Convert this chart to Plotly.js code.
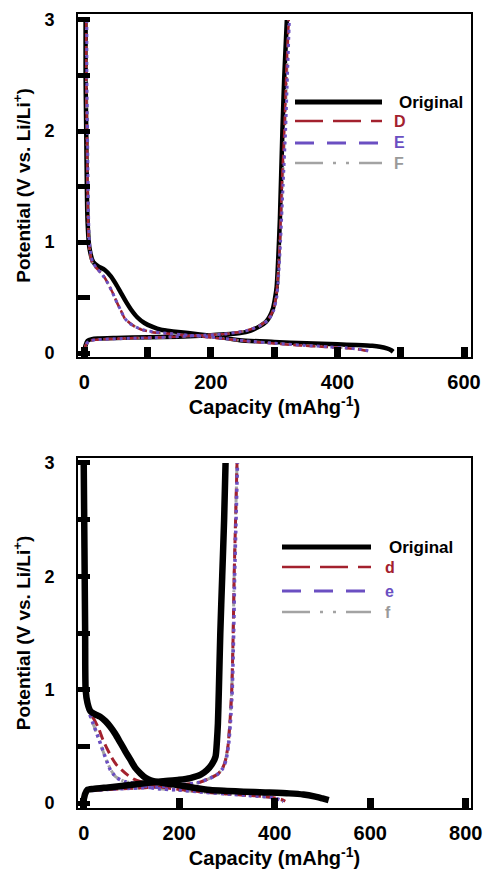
<!DOCTYPE html>
<html>
<head>
<meta charset="utf-8">
<script src="https://cdn.plot.ly/plotly-3.0.1.min.js"></script>
<style>html,body{margin:0;padding:0;background:#fff;}#chart{width:487px;height:872px;}</style>
</head>
<body>
<div id="chart"></div>
<script>
// ---------------- DATA (capacity mAh/g, potential V) ----------------
// Top panel
const topOrigDisX = [2, 2, 3, 4, 5, 8, 14, 22, 32, 42, 50, 58, 66, 74, 84, 95, 108, 121, 140, 164, 200, 246, 300, 351, 400, 430, 455, 467, 478, 485, 488];
const topOrigDisY = [3.0, 2.5, 2.0, 1.5, 1.2, 0.95, 0.82, 0.78, 0.75, 0.69, 0.62, 0.54, 0.46, 0.39, 0.32, 0.27, 0.235, 0.21, 0.195, 0.18, 0.155, 0.115, 0.1, 0.087, 0.078, 0.072, 0.065, 0.057, 0.042, 0.025, 0.012];
const topOrigChgX = [0, 2, 5, 12, 21, 50, 100, 148, 200, 246, 262, 277, 287, 293, 298, 301, 304, 306, 309, 313, 316, 320];
const topOrigChgY = [0.02, 0.07, 0.11, 0.125, 0.13, 0.135, 0.142, 0.147, 0.16, 0.18, 0.2, 0.24, 0.28, 0.33, 0.4, 0.48, 0.6, 0.8, 1.2, 2.0, 2.5, 3.0];

const topDDisX = [3, 3, 4, 5, 7, 12, 20, 30, 37, 45, 52, 58, 64, 72, 79, 90, 105, 130, 160, 200, 250, 300, 340, 380, 410, 430, 445, 452];
const topDDisY = [3.0, 2.5, 2.0, 1.5, 1.0, 0.82, 0.76, 0.7, 0.63, 0.54, 0.45, 0.38, 0.31, 0.27, 0.24, 0.21, 0.19, 0.175, 0.16, 0.14, 0.11, 0.085, 0.068, 0.055, 0.045, 0.035, 0.02, 0.01];
const topDChgX = [0, 3, 8, 20, 60, 120, 170, 220, 255, 275, 290, 298, 303, 306, 309, 312, 316, 319, 323];
const topDChgY = [0.02, 0.08, 0.11, 0.12, 0.13, 0.14, 0.155, 0.17, 0.2, 0.24, 0.3, 0.38, 0.5, 0.7, 1.0, 1.5, 2.0, 2.5, 3.0];

const topEDisX = [4, 4, 5, 6, 8, 13, 20, 28, 37, 44, 51, 58, 64, 71, 79, 92, 110, 135, 165, 205, 255, 300, 345, 385, 415, 435, 448, 455];
const topEDisY = [3.0, 2.5, 2.0, 1.5, 1.0, 0.82, 0.76, 0.71, 0.63, 0.55, 0.46, 0.38, 0.31, 0.27, 0.24, 0.21, 0.19, 0.175, 0.16, 0.14, 0.11, 0.088, 0.07, 0.056, 0.045, 0.033, 0.02, 0.01];
const topEChgX = [0, 3, 8, 20, 60, 120, 170, 220, 255, 276, 291, 299, 304, 307, 310, 314, 318, 321, 324];
const topEChgY = [0.02, 0.08, 0.11, 0.12, 0.13, 0.14, 0.155, 0.17, 0.2, 0.24, 0.3, 0.38, 0.5, 0.7, 1.0, 1.5, 2.0, 2.5, 3.0];

const topFDisX = [3, 3, 4, 5, 7, 12, 19, 28, 36, 44, 51, 57, 63, 71, 80, 92, 108, 132, 162, 202, 252, 300, 342, 382, 412, 432, 446, 453];
const topFDisY = [3.0, 2.5, 2.0, 1.5, 1.0, 0.82, 0.76, 0.71, 0.64, 0.55, 0.46, 0.39, 0.32, 0.27, 0.24, 0.21, 0.19, 0.175, 0.16, 0.14, 0.11, 0.087, 0.07, 0.056, 0.045, 0.034, 0.02, 0.01];
const topFChgX = [0, 3, 8, 20, 60, 120, 170, 220, 255, 275, 290, 298, 303, 306, 309, 313, 317, 320, 323];
const topFChgY = [0.02, 0.08, 0.11, 0.12, 0.13, 0.14, 0.155, 0.17, 0.2, 0.24, 0.3, 0.38, 0.5, 0.7, 1.0, 1.5, 2.0, 2.5, 3.0];

// Bottom panel
const botOrigDisX = [0, 1, 2, 3, 4, 8, 14, 25, 35, 46, 56, 66, 77, 88, 98, 108, 119, 130, 140, 160, 195, 230, 265, 300, 335, 380, 430, 460, 485, 500, 513];
const botOrigDisY = [3.0, 2.5, 2.0, 1.5, 1.0, 0.88, 0.81, 0.78, 0.76, 0.72, 0.67, 0.61, 0.53, 0.45, 0.38, 0.31, 0.26, 0.22, 0.2, 0.18, 0.16, 0.135, 0.115, 0.107, 0.1, 0.093, 0.085, 0.075, 0.056, 0.04, 0.025];
const botOrigChgX = [0, 3, 7.5, 20, 56, 110, 161, 200, 223, 245, 258, 268, 276, 279, 281, 283, 286, 290, 294, 297];
const botOrigChgY = [0.03, 0.08, 0.115, 0.125, 0.14, 0.165, 0.19, 0.205, 0.22, 0.25, 0.29, 0.34, 0.41, 0.55, 0.7, 1.0, 1.5, 2.0, 2.5, 3.0];

const botdDisX = [1, 2, 3, 4, 6, 10, 16, 24, 32, 40, 50, 60, 70, 80, 91, 105, 125, 150, 180, 220, 270, 320, 370, 400, 415, 422];
const botdDisY = [3.0, 2.5, 2.0, 1.5, 1.0, 0.85, 0.78, 0.72, 0.65, 0.56, 0.47, 0.39, 0.33, 0.29, 0.25, 0.21, 0.18, 0.15, 0.13, 0.11, 0.09, 0.075, 0.06, 0.045, 0.03, 0.015];
const botdChgX = [0, 3, 8, 20, 50, 100, 150, 200, 240, 265, 282, 291, 297, 302, 306, 310, 313, 315, 318, 321];
const botdChgY = [0.03, 0.08, 0.1, 0.11, 0.12, 0.13, 0.14, 0.16, 0.18, 0.22, 0.26, 0.31, 0.38, 0.5, 0.7, 1.0, 1.5, 2.0, 2.5, 3.0];

const boteDisX = [1, 2, 3, 4, 6, 10, 18, 25, 32, 42, 50, 56, 63, 70, 85, 112, 147, 196, 250, 300, 350, 390, 410, 418];
const boteDisY = [3.0, 2.5, 2.0, 1.5, 1.0, 0.82, 0.72, 0.64, 0.56, 0.44, 0.35, 0.29, 0.25, 0.22, 0.19, 0.17, 0.13, 0.115, 0.095, 0.08, 0.065, 0.05, 0.03, 0.012];
const boteChgX = [0, 3, 8, 20, 50, 100, 150, 200, 240, 265, 282, 292, 298, 303, 307, 311, 314, 316, 319, 322];
const boteChgY = [0.03, 0.08, 0.1, 0.11, 0.12, 0.13, 0.14, 0.16, 0.18, 0.22, 0.26, 0.31, 0.38, 0.5, 0.7, 1.0, 1.5, 2.0, 2.5, 3.0];

const botfDisX = [1, 2, 3, 4, 6, 10, 17, 24, 31, 41, 49, 56, 63, 71, 86, 112, 148, 196, 250, 300, 350, 390, 412, 420];
const botfDisY = [3.0, 2.5, 2.0, 1.5, 1.0, 0.83, 0.73, 0.65, 0.57, 0.45, 0.36, 0.3, 0.25, 0.22, 0.19, 0.17, 0.13, 0.115, 0.095, 0.08, 0.065, 0.05, 0.03, 0.012];
const botfChgX = [0, 3, 8, 20, 50, 100, 150, 200, 240, 265, 282, 291, 297, 302, 306, 310, 313, 315, 318, 321];
const botfChgY = [0.03, 0.08, 0.1, 0.11, 0.12, 0.13, 0.14, 0.16, 0.18, 0.22, 0.26, 0.31, 0.38, 0.5, 0.7, 1.0, 1.5, 2.0, 2.5, 3.0];

// Tick values / labels
const topXTickVals = [0, 200, 400, 600];
const topXTickText = ['0', '200', '400', '600'];
const topXMinorVals = [100, 300, 500];
const botXTickVals = [0, 200, 400, 600, 800];
const botXTickText = ['0', '200', '400', '600', '800'];
const yTickVals = [0, 1, 2, 3];
const yTickText = ['0', '1', '2', '3'];

const topNames = ['Original', 'D', 'E', 'F'];
const botNames = ['Original', 'd', 'e', 'f'];

// ---------------- STYLE ----------------
const FONT = 'Liberation Sans, Arial, Helvetica, sans-serif';
const cBlack = '#000000', cRed = '#a3212e', cPurple = '#6b4fc2', cGray = '#a3a3a3';

function joinCurve(dx, dy, cx, cy) {
  return { x: dx.concat([null], cx), y: dy.concat([null], cy) };
}
function tr(dx, dy, cx, cy, axis, color, width, dash) {
  const c = joinCurve(dx, dy, cx, cy);
  return {
    type: 'scatter', mode: 'lines', x: c.x, y: c.y,
    xaxis: 'x' + axis, yaxis: 'y' + axis, showlegend: false, hoverinfo: 'skip',
    connectgaps: false,
    line: { color: color, width: width, dash: dash, shape: 'spline', smoothing: 0.6 }
  };
}

const traces = [
  tr(topOrigDisX, topOrigDisY, topOrigChgX, topOrigChgY, '', cBlack, 4.5, 'solid'),
  tr(topFDisX, topFDisY, topFChgX, topFChgY, '', cGray, 2.5, '10px,4px,2px,4px,2px,4px'),
  tr(topDDisX, topDDisY, topDChgX, topDChgY, '', cRed, 2.5, '9px,4px'),
  tr(topEDisX, topEDisY, topEChgX, topEChgY, '', cPurple, 3, '3px,4px'),
  tr(botfDisX, botfDisY, botfChgX, botfChgY, '2', cGray, 3, '10px,4px,2px,4px,2px,4px'),
  tr(botdDisX, botdDisY, botdChgX, botdChgY, '2', cRed, 3, '10px,5px'),
  tr(boteDisX, boteDisY, boteChgX, boteChgY, '2', cPurple, 3.5, '3px,4px'),
  tr(botOrigDisX, botOrigDisY, botOrigChgX, botOrigChgY, '2', cBlack, 6.5, 'solid')
];

// pixel -> paper helpers (plot area: x 78..471, y 14..808)
const L = 78, R = 16, T = 14, B = 64, W = 487, H = 872;
const pw = W - L - R, ph = H - T - B;
const PX = X => (X - L) / pw;
const PY = Y => (H - B - Y) / ph;

function axisX(range, vals, text, minorVals, anchor) {
  const ax = {
    range: range, anchor: anchor, showgrid: false, zeroline: false,
    showline: true, linecolor: '#000', linewidth: 2, mirror: true,
    ticks: 'inside', ticklen: 10, tickwidth: 7, tickcolor: '#000',
    tickmode: 'array', tickvals: vals, ticktext: text, ticklabelstandoff: 6,
    tickfont: { family: FONT, size: 20, color: '#000', weight: 'bold' },
    title: { text: 'Capacity (mAhg<sup>-1</sup>)', standoff: 4,
             font: { family: FONT, size: 20, color: '#000', weight: 'bold' } },
    automargin: false, fixedrange: true
  };
  if (minorVals) {
    ax.minor = { tickmode: 'array', tickvals: minorVals, ticks: 'inside', ticklen: 10, tickwidth: 7, tickcolor: '#000', showgrid: false };
  }
  return ax;
}
function axisY(range, domain, anchor) {
  return {
    range: range, domain: domain, anchor: anchor, showgrid: false, zeroline: false,
    showline: true, linecolor: '#000', linewidth: 2, mirror: true,
    ticks: 'inside', ticklen: 12, tickwidth: 5, tickcolor: '#000',
    tickmode: 'array', tickvals: yTickVals, ticktext: yTickText, ticklabelstandoff: 18,
    minor: { dtick: 0.5, tick0: 0, ticks: 'inside', ticklen: 12, tickwidth: 5, tickcolor: '#000', showgrid: false },
    tickfont: { family: FONT, size: 18, color: '#000', weight: 'bold' },
    title: { text: 'Potential (V vs. Li/Li<sup>+</sup>)', standoff: 9,
             font: { family: FONT, size: 19, color: '#000', weight: 'bold' } },
    automargin: false, fixedrange: true
  };
}

// Custom legends (long line samples like the original)
const shapes = [], annotations = [];
function legend(x0, x1, xt, rows, names, fontSize) {
  const styles = [
    { color: cBlack, width: 5, dash: 'solid' },
    { color: cRed, width: 2.5, dash: '28px,10px' },
    { color: cPurple, width: 3, dash: '19px,13px' },
    { color: cGray, width: 2.5, dash: '28px,10px,3px,10px,3px,10px' }
  ];
  const txtColors = [cBlack, cRed, cPurple, '#9a9a9a'];
  rows.forEach((Y, i) => {
    shapes.push({ type: 'line', xref: 'paper', yref: 'paper',
      x0: PX(x0), x1: PX(x1), y0: PY(Y), y1: PY(Y), line: styles[i] });
    annotations.push({ xref: 'paper', yref: 'paper', x: PX(xt[i]), y: PY(Y),
      xanchor: 'left', yanchor: 'middle', showarrow: false, text: names[i],
      font: { family: FONT, size: i === 0 ? fontSize : fontSize - 1, color: txtColors[i], weight: 'bold' } });
  });
}
legend(295, 382, [397, 392, 392, 392], [102, 121, 143, 163], topNames, 17);
legend(282, 371, [387, 383, 383, 383], [547, 567, 591, 612], botNames, 17);

const layout = {
  width: W, height: H, margin: { l: L, r: R, t: T, b: B, pad: 0 },
  paper_bgcolor: '#fff', plot_bgcolor: '#fff', showlegend: false,
  font: { family: FONT, color: '#000' },
  xaxis: axisX([-10, 611], topXTickVals, topXTickText, topXMinorVals, 'y'),
  yaxis: axisY([-0.036, 3.054], [PY(357), 1], 'x'),
  xaxis2: axisX([-12, 811], botXTickVals, botXTickText, null, 'y2'),
  yaxis2: axisY([-0.044, 3.044], [0, PY(458)], 'x2'),
  shapes: shapes, annotations: annotations
};

Plotly.newPlot('chart', traces, layout, { staticPlot: true, displayModeBar: false });
</script>
</body>
</html>
